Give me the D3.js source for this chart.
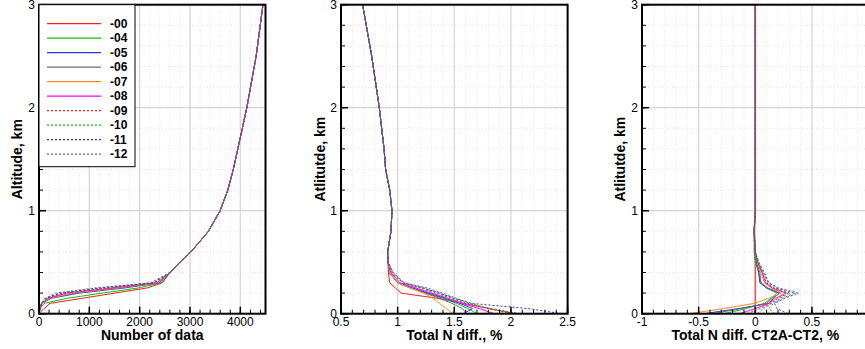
<!DOCTYPE html>
<html>
<head>
<meta charset="utf-8">
<script src="https://cdn.jsdelivr.net/npm/d3@7"></script>
<style>
  body { margin: 0; background: #fff; }
  svg { display: block; font-family: "Liberation Sans", Arial, sans-serif; }
</style>
</head>
<body>
<div id="chart"></div>
<script>
// series names and styles
const seriesNames = ["-00", "-04", "-05", "-06", "-07", "-08", "-09", "-10", "-11", "-12"];
const seriesColors = ["#ff1a1a", "#00c800", "#2f2fff", "#6e6e6e", "#ff8c1a", "#ff00ff",
                      "#ff1a1a", "#00c800", "#2f2fff", "#6e6e6e"];
const seriesDotted = [false, false, false, false, false, false, true, true, true, true];

// altitude levels, km
const altitude = [0, 0.05, 0.1, 0.15, 0.2, 0.25, 0.3, 0.4, 0.5, 0.6, 0.8, 1.0, 1.2, 1.4, 1.6, 2.0, 2.5, 3.0];

// panel 1: number of data (lower part per series, upper part shared from 0.4 km)
const countLow = [
  [0, 100, 219, 862, 1505, 2149, 2452],
  [0, 20, 100, 560, 1257, 1975, 2440],
  [0, 22, 60, 240, 800, 1700, 2400],
  [0, 24, 60, 220, 700, 1600, 2380],
  [0, 25, 60, 200, 650, 1550, 2360],
  [0, 26, 50, 180, 550, 1450, 2340],
  [0, 28, 50, 160, 480, 1350, 2300],
  [0, 30, 48, 150, 430, 1280, 2280],
  [0, 32, 45, 140, 400, 1200, 2260],
  [0, 35, 40, 120, 330, 1100, 2214]
];
const countHigh = [2604, 2800, 3020, 3366, 3598, 3751, 3860, 3950, 4129, 4314, 4450];

// panel 2: total N diff, % (lower part per series, shared from 0.5 km)
const diffLow = [
  [2.04, 1.81, 1.58, 1.345, 1.03, 0.98, 0.93, 0.918],
  [1.70, 1.62, 1.52, 1.40, 1.25, 1.12, 1.00, 0.93],
  [1.58, 1.66, 1.55, 1.42, 1.27, 1.13, 1.00, 0.925],
  [1.61, 1.57, 1.48, 1.37, 1.24, 1.11, 1.00, 0.93],
  [1.49, 1.43, 1.37, 1.31, 1.23, 1.11, 1.00, 0.93],
  [1.85, 1.72, 1.57, 1.44, 1.30, 1.16, 1.02, 0.94],
  [2.05, 1.80, 1.60, 1.47, 1.34, 1.20, 1.04, 0.95],
  [2.08, 1.82, 1.62, 1.49, 1.36, 1.22, 1.05, 0.95],
  [2.45, 2.15, 1.65, 1.50, 1.37, 1.23, 1.05, 0.96],
  [2.00, 1.80, 1.64, 1.52, 1.40, 1.26, 1.06, 0.96]
];
const diffHigh = [0.915, 0.912, 0.941, 0.95, 0.93, 0.894, 0.88, 0.838, 0.771, 0.691];

// panel 3: CT2A-CT2 diff, % (lower part per series, shared from 0.8 km)
const ctLow = [
  [0, 0, 0, 0, 0, 0, 0, 0, 0, 0],
  [-0.28, -0.08, 0.08, 0.14, 0.19, 0.10, 0.05, 0.03, 0.00, -0.01],
  [-0.45, -0.15, 0.12, 0.16, 0.21, 0.10, 0.04, 0.03, 0.01, -0.005],
  [-0.38, -0.12, 0.10, 0.15, 0.22, 0.11, 0.05, 0.04, 0.01, -0.005],
  [-0.58, -0.28, -0.01, 0.12, 0.23, 0.14, 0.08, 0.05, 0.02, 0.0],
  [-0.14, 0.00, 0.12, 0.18, 0.27, 0.15, 0.09, 0.06, 0.02, 0.0],
  [-0.07, 0.04, 0.14, 0.20, 0.29, 0.16, 0.10, 0.06, 0.02, 0.0],
  [0.02, 0.07, 0.15, 0.22, 0.31, 0.17, 0.11, 0.07, 0.02, 0.0],
  [0.29, 0.19, 0.17, 0.26, 0.38, 0.20, 0.12, 0.08, 0.03, 0.0],
  [0.17, 0.12, 0.16, 0.24, 0.35, 0.19, 0.12, 0.07, 0.03, 0.0]
];
const ctHigh = [-0.01, 0, 0, 0, 0, 0, 0, 0];

const xTicks1 = [0, 1000, 2000, 3000, 4000];
const xTicks2 = [0.5, 1, 1.5, 2, 2.5];
const xTicks3 = [-1, -0.5, 0, 0.5, 1];
const yTicks = [0, 1, 2, 3];

const width = 865, height = 349;
const svg = d3.select("#chart").append("svg")
    .attr("width", width)
    .attr("height", height);

const yTop = 4.7, yBottom = 313.7;

function drawPanel(opts) {
    const x = d3.scaleLinear().domain(opts.xDomain).range(opts.xRange);
    const y = d3.scaleLinear().domain([0, 3]).range([yBottom, yTop]);
    const g = svg.append("g");

    const x0 = opts.xRange[0], x1 = opts.xRange[1];

    // minor grid (dotted)
    const xMinor = d3.range(opts.xDomain[0], opts.xDomain[1] + opts.xMinorStep / 2, opts.xMinorStep);
    const yMinor = d3.range(0, 3.0001, 0.2);
    g.selectAll(".gxm").data(xMinor).enter().append("line")
        .attr("x1", d => x(d)).attr("x2", d => x(d))
        .attr("y1", yBottom).attr("y2", yTop)
        .attr("stroke", "#e4e4e4").attr("stroke-dasharray", "1,2");
    g.selectAll(".gym").data(yMinor).enter().append("line")
        .attr("x1", x0).attr("x2", x1)
        .attr("y1", d => y(d)).attr("y2", d => y(d))
        .attr("stroke", "#e4e4e4").attr("stroke-dasharray", "1,2");

    // major grid
    g.selectAll(".gx").data(opts.xTicks).enter().append("line")
        .attr("x1", d => x(d)).attr("x2", d => x(d))
        .attr("y1", yBottom).attr("y2", yTop)
        .attr("stroke", "#d6d6d6").attr("stroke-width", 1.2);
    g.selectAll(".gy").data(yTicks).enter().append("line")
        .attr("x1", x0).attr("x2", x1)
        .attr("y1", d => y(d)).attr("y2", d => y(d))
        .attr("stroke", "#d6d6d6").attr("stroke-width", 1.2);

    // data lines
    const line = d3.line()
        .x(d => x(d[0]))
        .y(d => y(d[1]));
    const clipId = "clip" + opts.id;
    g.append("clipPath").attr("id", clipId)
        .append("rect").attr("x", x0).attr("y", yTop)
        .attr("width", x1 - x0).attr("height", yBottom - yTop);
    const lines = g.append("g").attr("clip-path", `url(#${clipId})`);
    opts.values.forEach((vals, i) => {
        const pts = vals.map((v, k) => [v, altitude[k]]);
        lines.append("path")
            .attr("d", line(pts))
            .attr("fill", "none")
            .attr("stroke", seriesColors[i])
            .attr("stroke-width", opts.id === 3 && i === 0 ? 1.6 : 1)
            .attr("stroke-opacity", opts.id === 3 && i === 0 ? 0.7 : 1)
            .attr("stroke-dasharray", seriesDotted[i] ? "2,2" : null);
    });

    // frame
    g.append("rect")
        .attr("x", x0).attr("y", yTop)
        .attr("width", x1 - x0).attr("height", yBottom - yTop)
        .attr("fill", "none").attr("stroke", "#000").attr("stroke-width", 2);

    // ticks (inward)
    g.selectAll(".ytm").data(yMinor).enter().append("line")
        .attr("x1", x0).attr("x2", x0 + 4)
        .attr("y1", d => y(d)).attr("y2", d => y(d))
        .attr("stroke", "#000");
    g.selectAll(".yt").data(yTicks).enter().append("line")
        .attr("x1", x0).attr("x2", x0 + 7)
        .attr("y1", d => y(d)).attr("y2", d => y(d))
        .attr("stroke", "#000").attr("stroke-width", 1.5);
    g.selectAll(".xtm").data(xMinor).enter().append("line")
        .attr("x1", d => x(d)).attr("x2", d => x(d))
        .attr("y1", yBottom).attr("y2", yBottom - 4)
        .attr("stroke", "#000");
    g.selectAll(".xt").data(opts.xTicks).enter().append("line")
        .attr("x1", d => x(d)).attr("x2", d => x(d))
        .attr("y1", yBottom).attr("y2", yBottom - 7)
        .attr("stroke", "#000").attr("stroke-width", 1.5);

    // tick labels
    g.selectAll(".ytl").data(yTicks).enter().append("text")
        .attr("x", x0 - 4).attr("y", d => y(d) + 4)
        .attr("text-anchor", "end")
        .attr("font-size", 12)
        .text(d => d);
    g.selectAll(".xtl").data(opts.xTicks).enter().append("text")
        .attr("x", d => x(d)).attr("y", 326)
        .attr("text-anchor", "middle")
        .attr("font-size", 12)
        .text(d => d);

    // axis titles
    g.append("text")
        .attr("x", (x0 + x1) / 2).attr("y", 340)
        .attr("text-anchor", "middle")
        .attr("font-size", 14).attr("font-weight", "bold")
        .text(opts.xLabel);
    g.append("text")
        .attr("transform", `translate(${opts.yLabelX},${(yTop + yBottom) / 2}) rotate(-90)`)
        .attr("text-anchor", "middle")
        .attr("font-size", 14).attr("font-weight", "bold")
        .text(opts.yLabel);

    return { x, y, g };
}

drawPanel({
    id: 1,
    xDomain: [0, 4500], xRange: [39, 265.5], xTicks: xTicks1, xMinorStep: 200,
    values: countLow.map(v => v.concat(countHigh)),
    xLabel: "Number of data", yLabel: "Altitude, km", yLabelX: 22
});

drawPanel({
    id: 2,
    xDomain: [0.5, 2.5], xRange: [341, 567.6], xTicks: xTicks2, xMinorStep: 0.1,
    values: diffLow.map(v => v.concat(diffHigh)),
    xLabel: "Total N diff., %", yLabel: "Atlitutde, km", yLabelX: 325
});

drawPanel({
    id: 3,
    xDomain: [-1, 1], xRange: [642, 868.6], xTicks: xTicks3, xMinorStep: 0.1,
    values: ctLow.map(v => v.concat(ctHigh)),
    xLabel: "Total N diff. CT2A-CT2, %", yLabel: "Atlitutde, km", yLabelX: 625
});

// legend (first panel)
const legend = svg.append("g");
legend.append("rect")
    .attr("x", 39).attr("y", 4.7)
    .attr("width", 96).attr("height", 162)
    .attr("fill", "#fff").attr("stroke", "#000").attr("stroke-width", 1);
seriesNames.forEach((name, i) => {
    const ly = 23.7 + i * 14.5;
    legend.append("line")
        .attr("x1", 47).attr("x2", 101)
        .attr("y1", ly).attr("y2", ly)
        .attr("stroke", seriesColors[i])
        .attr("stroke-width", 1.2)
        .attr("stroke-dasharray", seriesDotted[i] ? "2,2" : null);
    legend.append("text")
        .attr("x", 110).attr("y", ly + 4)
        .attr("font-size", 12).attr("font-weight", "bold")
        .text(name);
});
</script>
</body>
</html>
